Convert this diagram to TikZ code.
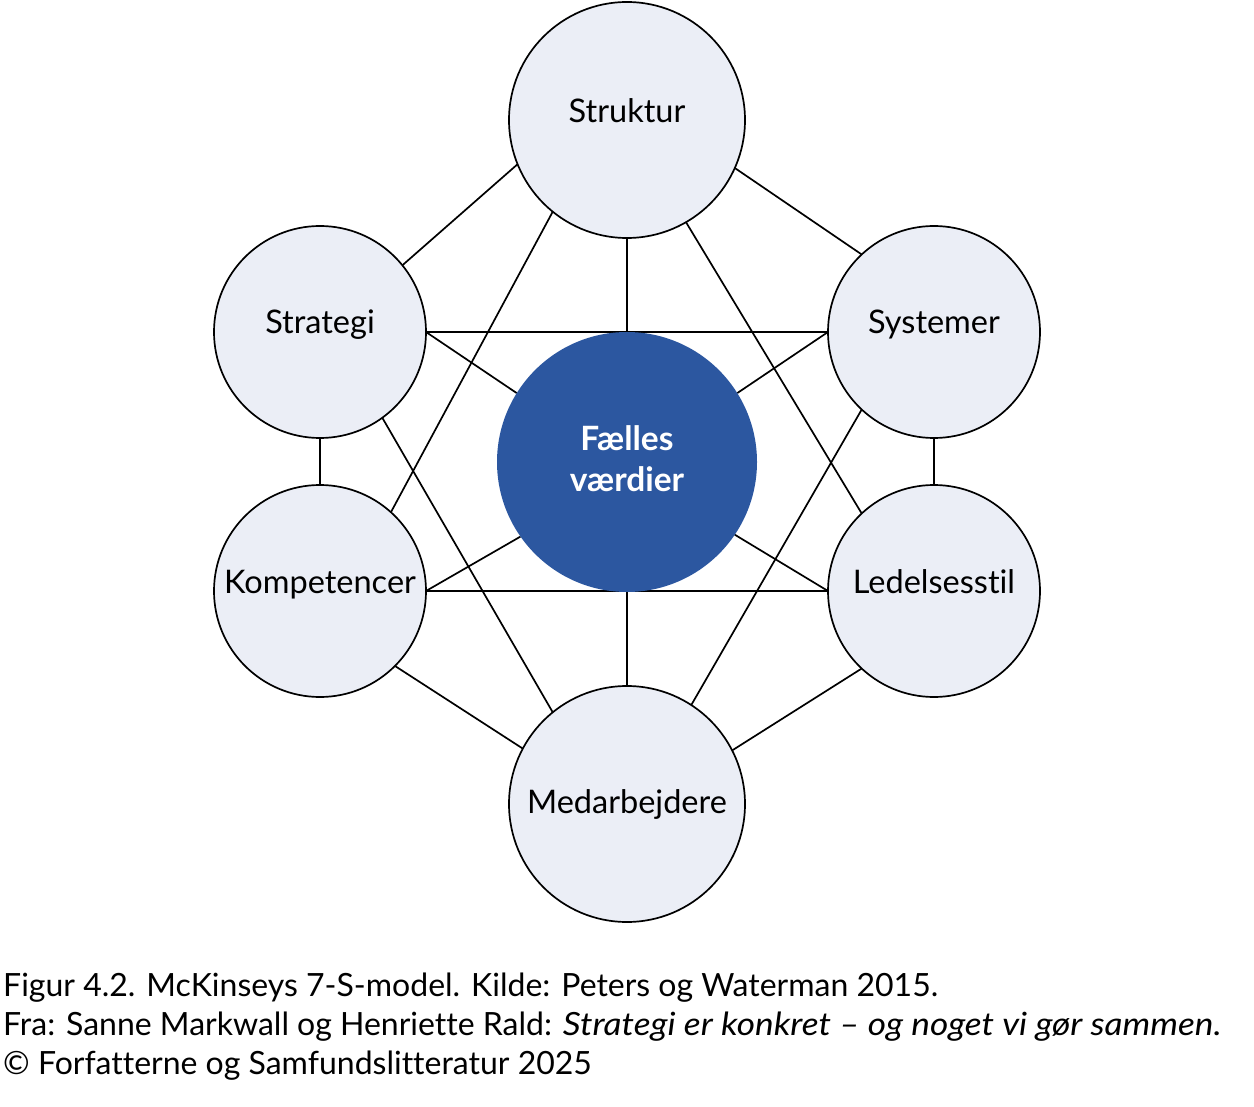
\documentclass[tikz,border=0pt]{standalone}
\usepackage{fontspec}
\setmainfont{Lato}[Ligatures=NoCommon,ItalicFeatures={FakeStretch=1.1}]
\pgfdeclarelayer{bg}
\pgfsetlayers{bg,main}
\definecolor{nodefill}{RGB}{235,238,246}
\definecolor{corefill}{RGB}{44,87,160}
\begin{document}
\begin{tikzpicture}[x=1pt,y=-1pt,
  bigc/.style={circle,draw=black,line width=1.7pt,fill=nodefill,minimum size=236pt,inner sep=0pt,outer sep=0pt},
  smallc/.style={bigc,minimum size=212pt},
  core/.style={circle,fill=corefill,minimum size=260pt,inner sep=0pt,outer sep=0pt},
  lbl/.style={anchor=base,inner sep=0pt,font=\fontsize{32.5}{38}\selectfont},
  corelbl/.style={inner sep=0pt,align=center,text=white,font=\fontsize{33.5}{41}\selectfont\bfseries},
  link/.style={line width=1.7pt,draw=black},
  caption/.style={anchor=base west,inner sep=0pt,font=\fontsize{32}{38}\selectfont}]
\useasboundingbox (0,0) rectangle (1254,1107);
% circles
\node[bigc]   (struktur)     at (627,120) {};
\node[smallc] (strategi)     at (320,332) {};
\node[smallc] (systemer)     at (934,332) {};
\node[smallc] (kompetencer)  at (320,591) {};
\node[smallc] (ledelsesstil) at (934,591) {};
\node[bigc]   (medarbejdere) at (627,804) {};
\node[core]   (vaerdier)     at (627,462) {};
% labels
\node[lbl] (tstruktur)     at (627,123) {Struktur};
\node[lbl] (tstrategi)     at (320,334) {Strategi};
\node[lbl] (tsystemer)     at (934,334) {Systemer};
\node[lbl] (tkompetencer)  at (320,593) {Kompetencer};
\node[lbl] (tledelsesstil) at (934,593) {Ledelsesstil};
\node[lbl] (tmedarbejdere) at (627,813) {Medarbejdere};
\node[corelbl] (tvaerdier) at (627,459) {Fælles\\værdier};
% connectors
\begin{pgfonlayer}{bg}
\draw[link] (struktur.south) -- (vaerdier.north);
\draw[link] (vaerdier.south) -- (medarbejdere.north);
\draw[link] (strategi.south) -- (kompetencer.north);
\draw[link] (systemer.south) -- (ledelsesstil.north);
\draw[link] (strategi.east) -- (systemer.west);
\draw[link] (kompetencer.east) -- (ledelsesstil.west);
\draw[link] (struktur.202.7) -- (strategi.39.6);
\draw[link] (struktur.-24.1) -- (systemer.133.9);
\draw[link] (struktur.231.2) -- (kompetencer.48.6);
\draw[link] (struktur.-60.5) -- (ledelsesstil.133.1);
\draw[link] (strategi.east) -- (vaerdier.148.8);
\draw[link] (strategi.-54.8) -- (medarbejdere.129.1);
\draw[link] (systemer.west) -- (vaerdier.32.9);
\draw[link] (systemer.227.3) -- (medarbejdere.57.4);
\draw[link] (kompetencer.east) -- (vaerdier.215.1);
\draw[link] (ledelsesstil.west) -- (vaerdier.-34);
\draw[link] (kompetencer.-45.5) -- (medarbejdere.152.9);
\draw[link] (ledelsesstil.227) -- (medarbejdere.27.4);
\end{pgfonlayer}
% caption
\node[caption] (cap1) at (3,996) {Figur 4.2. McKinseys 7-S-model. Kilde: Peters og Waterman 2015.};
\node[caption] (cap2) at (3,1035) {Fra: Sanne Markwall og Henriette Rald: \textit{Strategi er konkret – og noget vi gør sammen.}};
\node[caption] (cap3) at (3,1074) {© Forfatterne og Samfundslitteratur 2025};
\end{tikzpicture}
\end{document}
